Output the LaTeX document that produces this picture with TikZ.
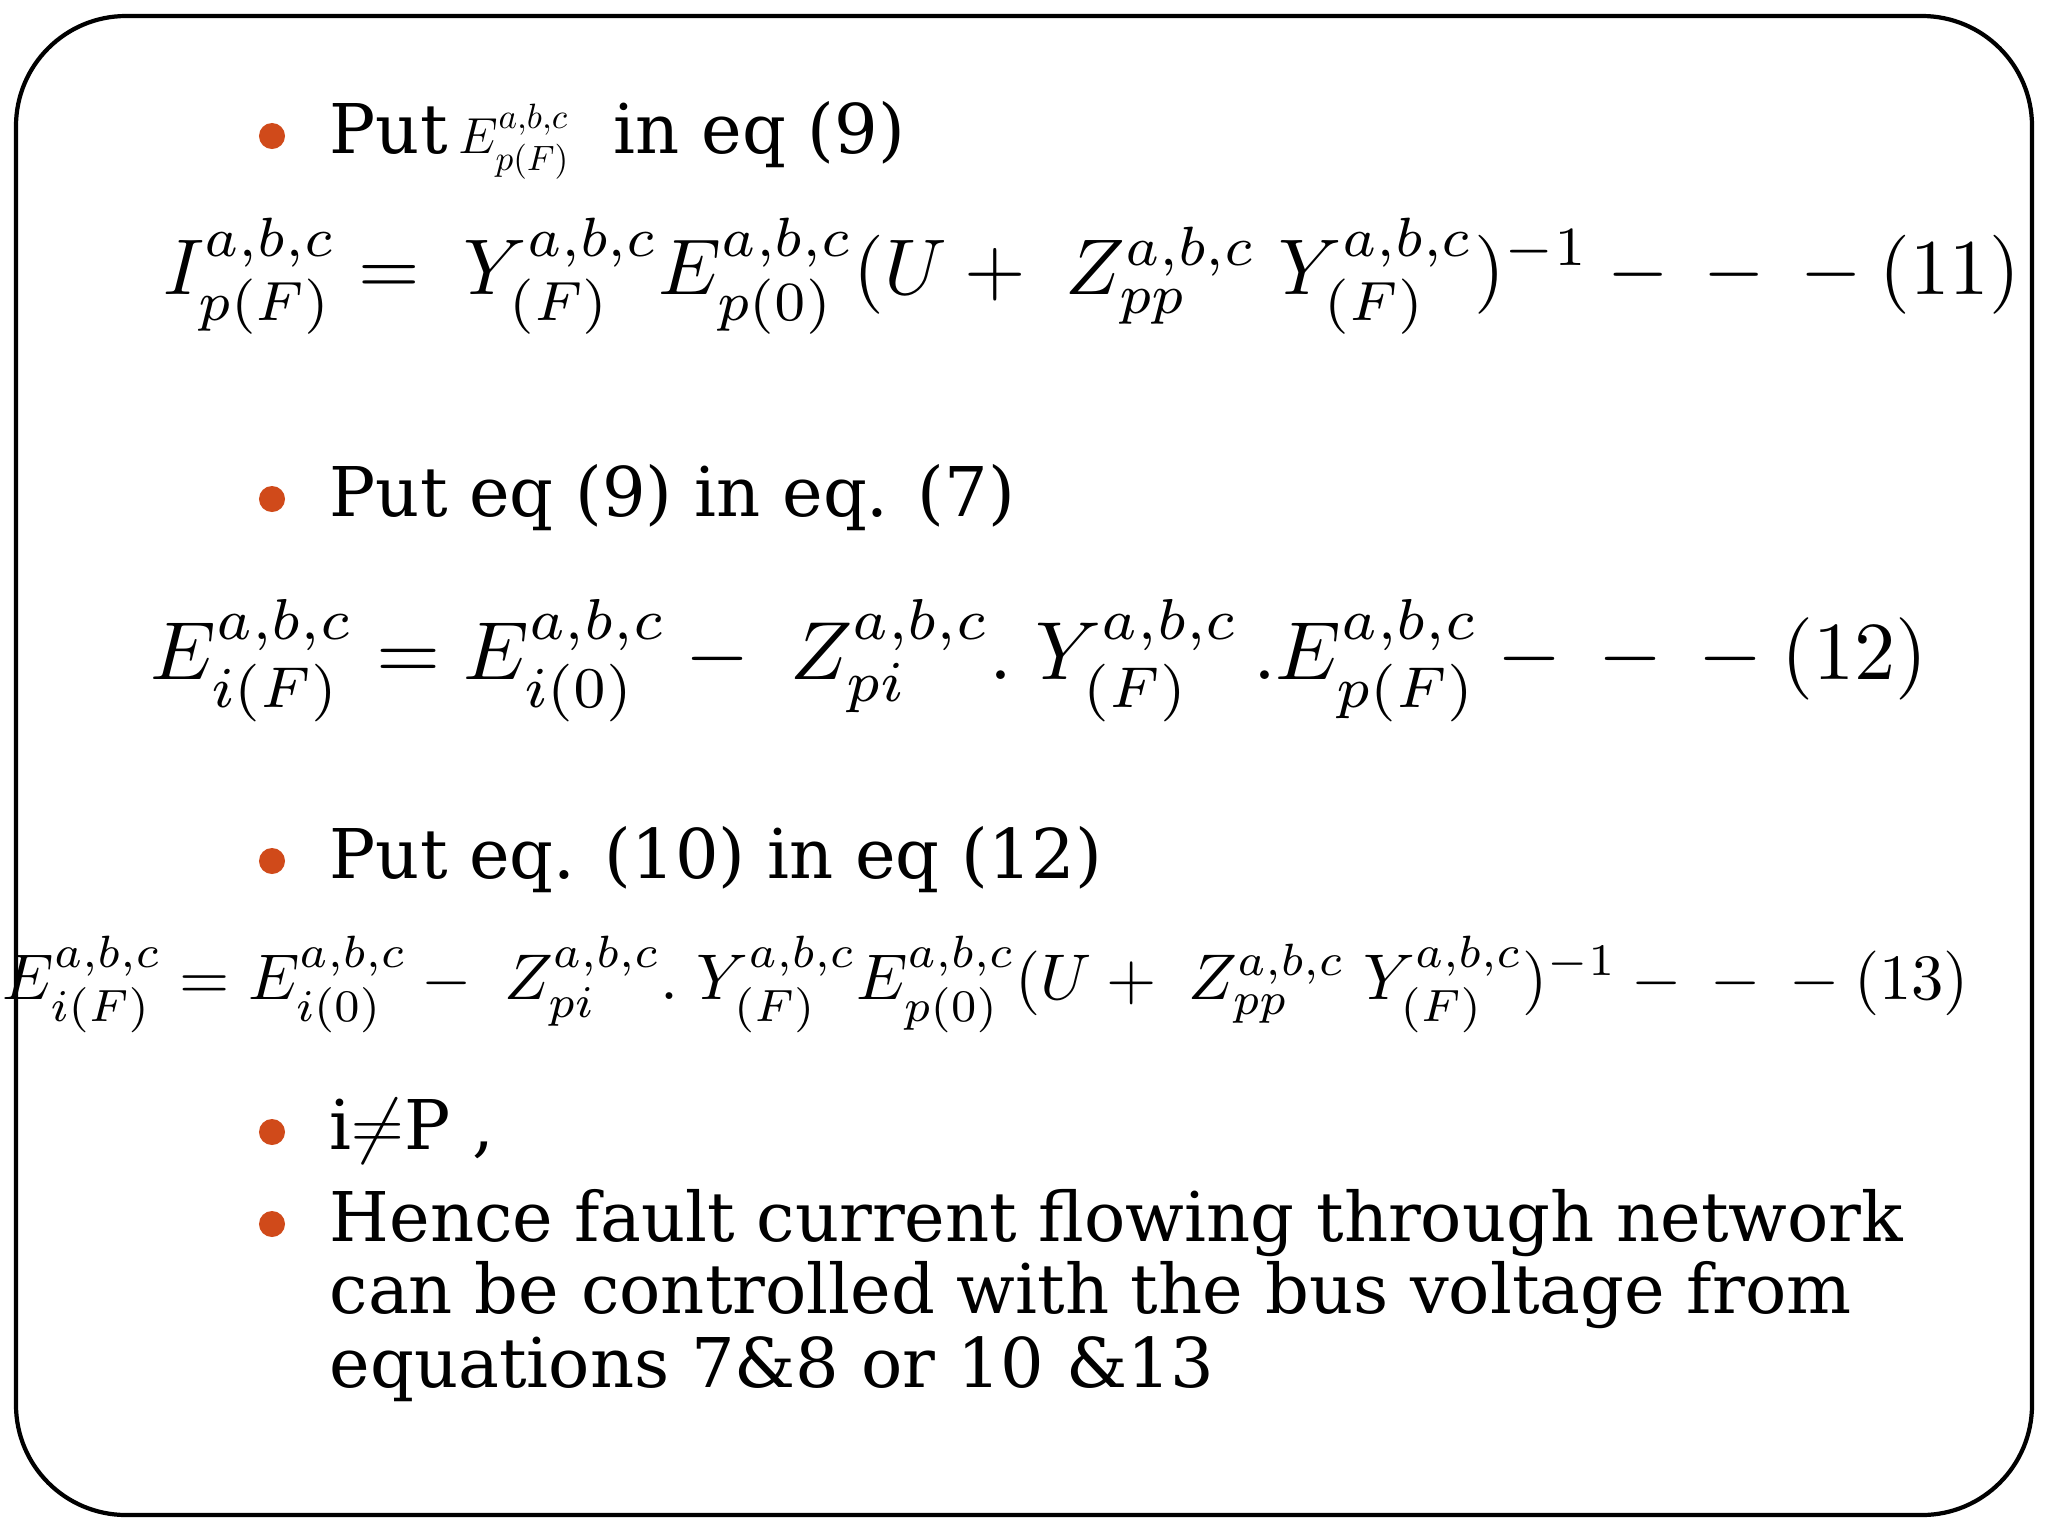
\documentclass[tikz,border=0pt]{standalone}
\usepackage{amsmath,graphicx}
\usepackage{fontspec}
\setmainfont{DejaVu Serif}
\definecolor{bul}{HTML}{D04A1A}
\begin{document}
\begin{tikzpicture}[x=0.01cm,y=-0.01cm,
  txt/.style={anchor=base west,inner sep=0pt,font=\fontsize{19.5}{22}\selectfont},
  eqn/.style={anchor=base west,inner sep=0pt},
  bl/.style={fill=bul,circle,inner sep=0pt,minimum size=0.26cm}]
\useasboundingbox (0,0) rectangle (2048,1536);
\draw[line width=1.2pt,rounded corners=1.1cm] (16,16) rectangle (2032,1515);
% bullets
\foreach \n/\y in {b1/153,b2/516,b3/878,b4/1149,b5/1241}
  \node[bl] (\n) at (272,\y-17) {};
\node[txt] (t1) at (329,153) {Put\,$\scriptstyle E^{a,b,c}_{p(F)}$\ \ in eq (9)};
\node[eqn] (e11) at (163,294) {\resizebox{18.55cm}{!}{$I^{a,b,c}_{p(F)} =\; Y^{a,b,c}_{(F)}E^{a,b,c}_{p(0)}(U+\; Z^{a,b,c}_{pp}\; Y^{a,b,c}_{(F)})^{-1}-{}-{}-(11)$}};
\node[txt] (t2) at (329,516) {Put eq (9) in eq. (7)};
\node[eqn] (e12) at (150,679) {\resizebox{17.76cm}{!}{$E^{a,b,c}_{i(F)} = E^{a,b,c}_{i(0)} -\; Z^{a,b,c}_{pi}.\; Y^{a,b,c}_{(F)}\,.E^{a,b,c}_{p(F)} -{}-{}-(12)$}};
\node[txt] (t3) at (329,878) {Put eq. (10) in eq (12)};
\node[eqn] (e13) at (2,999) {\resizebox{19.65cm}{!}{$E^{a,b,c}_{i(F)} = E^{a,b,c}_{i(0)} -\; Z^{a,b,c}_{pi}.\; Y^{a,b,c}_{(F)}E^{a,b,c}_{p(0)}(U+\; Z^{a,b,c}_{pp}\; Y^{a,b,c}_{(F)})^{-1}-{}-{}-(13)$}};
\node[txt] (t4) at (329,1149) {i$\neq$P ,};
\node[txt] (t5) at (329,1241) {Hence fault current flowing through network};
\node[txt] (t6) at (329,1313) {can be controlled with the bus voltage from};
\node[txt] (t7) at (329,1387) {equations 7\&8 or 10 \&13};
\end{tikzpicture}
\end{document}
